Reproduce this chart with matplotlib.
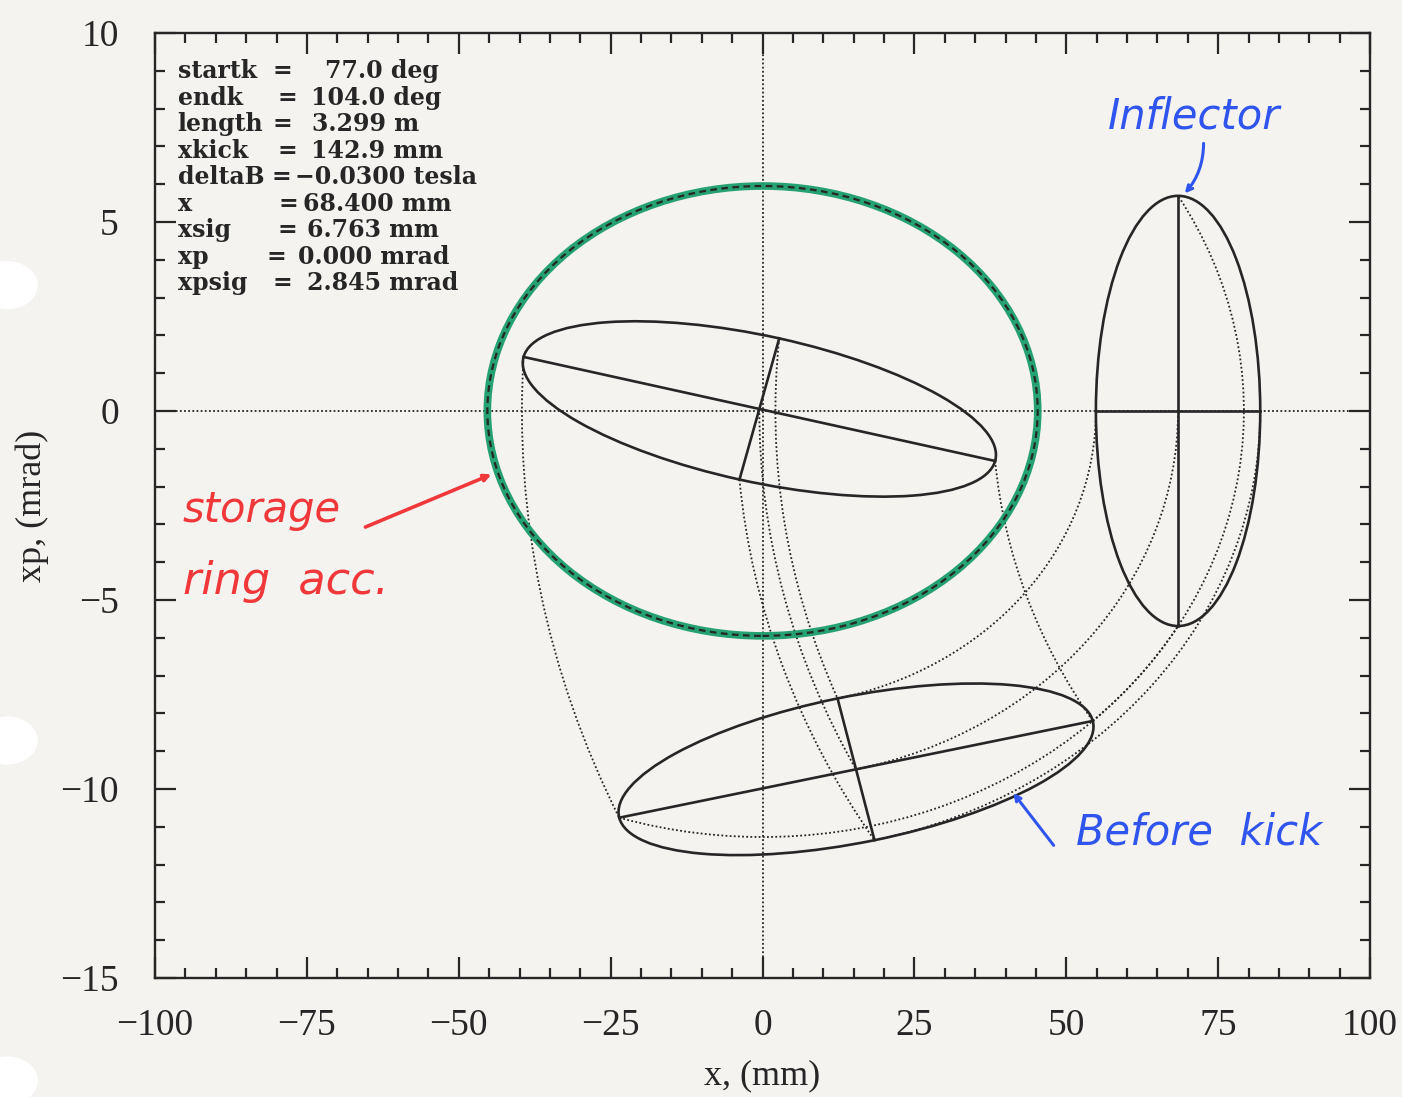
import numpy as np
import matplotlib
matplotlib.use('Agg')
import matplotlib.pyplot as plt
from matplotlib.patches import Ellipse, Arc, Circle
from matplotlib.transforms import Affine2D

# settings printed in the box
info_labels = ['startk', 'endk', 'length', 'xkick', 'deltaB', 'x', 'xsig', 'xp', 'xpsig']
info_values = ['77.0 deg', '104.0 deg', '3.299 m', '142.9 mm', '\u22120.0300 tesla',
               '68.400 mm', '6.763 mm', '0.000 mrad', '2.845 mrad']

# beam at the inflector exit
x0 = 68.4        # mm
xsig = 6.763     # mm
xp0 = 0.0        # mrad
xpsig = 2.845    # mrad
nsig = 2.0       # ellipse drawn at 2 sigma

# kicker
startk = 77.0    # deg betatron phase where the kick starts
endk = 104.0     # deg where it ends
beta = 7.03      # m, ring beta at the inflector
kick_pivot = 147.0   # mm, rotation centre in normalised phase space during the kick

# storage ring acceptance (half axes)
acc_x = 45.3     # mm
acc_xp = 5.95    # mrad

bg = '#f5f3f0'
ink = '#262626'
dot = (0, (1.0, 1.3))


def rot(p, c, deg):
    # clockwise rotation of p about c in normalised phase space (x, beta*xp)
    a = np.deg2rad(deg)
    dx, dy = p[0] - c[0], p[1] - c[1]
    return (c[0] + dx * np.cos(a) + dy * np.sin(a),
            c[1] - dx * np.sin(a) + dy * np.cos(a))


fig = plt.figure(figsize=(14.02, 10.97), dpi=100, facecolor=bg)
ax = fig.add_axes([0.1106, 0.1085, 0.8666, 0.8615], facecolor=bg)
ax.set_xlim(-100, 100)
ax.set_ylim(-15, 10)

# normalised coordinates -> data
norm = Affine2D().scale(1.0, 1.0 / beta) + ax.transData

ax.axhline(0, color=ink, lw=1.3, ls=dot, zorder=1)
ax.axvline(0, color=ink, lw=1.3, ls=dot, zorder=1)

# centre and the four ends of the inflector ellipse
origin = (0.0, 0.0)
pivot = (kick_pivot, 0.0)
bx = nsig * xsig
by = beta * nsig * xpsig
c0 = (x0, beta * xp0)
pts0 = {
    'c': c0,
    'l': (c0[0] - bx, c0[1]),
    'r': (c0[0] + bx, c0[1]),
    't': (c0[0], c0[1] + by),
    'b': (c0[0], c0[1] - by),
}
pts1 = {k: rot(p, origin, startk) for k, p in pts0.items()}
pts2 = {k: rot(p, pivot, endk - startk) for k, p in pts1.items()}

# dotted trajectories: free rotation up to the kicker, then rotation about the pivot
for k in pts0:
    p = pts0[k]
    r = np.hypot(*p)
    a = np.degrees(np.arctan2(p[1], p[0]))
    ax.add_patch(Arc(origin, 2 * r, 2 * r, theta1=a - startk, theta2=a,
                     transform=norm, color=ink, lw=1.3, ls=dot, zorder=2))
    q = pts1[k]
    r2 = np.hypot(q[0] - pivot[0], q[1] - pivot[1])
    a2 = np.degrees(np.arctan2(q[1] - pivot[1], q[0] - pivot[0]))
    ax.add_patch(Arc(pivot, 2 * r2, 2 * r2, theta1=a2 - (endk - startk), theta2=a2,
                     transform=norm, color=ink, lw=1.3, ls=dot, zorder=2))

# beam ellipses with their two conjugate diameters
for pts, ang in [(pts0, 0.0), (pts1, -startk), (pts2, -endk)]:
    ax.add_patch(Ellipse(pts['c'], 2 * bx, 2 * by, angle=ang, transform=norm,
                         fill=False, ec=ink, lw=1.9, zorder=3))
    for a, b in [('l', 'r'), ('t', 'b')]:
        ax.plot([pts[a][0], pts[b][0]], [pts[a][1], pts[b][1]], color=ink, lw=1.9,
                transform=norm, zorder=3)

# acceptance: green marker with the dashed curve on top
ax.add_patch(Ellipse((0, 0), 2 * acc_x, 2 * acc_xp, fill=False, ec='#1a9d6b', lw=5.5,
                     alpha=0.95, zorder=4))
ax.add_patch(Ellipse((0, 0), 2 * acc_x, 2 * acc_xp, fill=False, ec=ink, lw=1.6,
                     ls=(0, (3, 2)), zorder=5))

# axes
for s in ax.spines.values():
    s.set_linewidth(1.7)
    s.set_color(ink)
ax.set_xticks(np.arange(-100, 101, 25))
ax.set_xticks(np.arange(-100, 101, 5), minor=True)
ax.set_yticks(np.arange(-15, 11, 5))
ax.set_yticks(np.arange(-15, 11, 1), minor=True)
ax.tick_params(which='both', direction='in', top=True, right=True, color=ink, width=1.6)
ax.tick_params(which='major', length=15)
ax.tick_params(which='minor', length=7)
ax.tick_params(axis='x', pad=22)
ax.tick_params(axis='y', pad=26)
for t in ax.get_xticklabels() + ax.get_yticklabels():
    t.set_fontfamily('Liberation Serif')
    t.set_fontsize(27)
    t.set_color(ink)
ax.set_xlabel('x, (mm)', family='Liberation Serif', fontsize=26, color=ink, labelpad=12)
ax.set_ylabel('xp, (mrad)', family='Liberation Serif', fontsize=26, color=ink, labelpad=8)

# parameter box: label, '=' and value columns
eq_x = [-80.6, -79.8, -80.6, -79.8, -80.9, -79.6, -79.8, -81.6, -80.6]
val_x = [-72.0, -74.4, -74.2, -74.4, -77.0, -75.6, -75.0, -76.4, -75.0]
for i, (lab, val) in enumerate(zip(info_labels, info_values)):
    y = 8.98 - 0.70 * i
    kw = dict(family='DejaVu Serif', weight='bold', fontsize=17, color=ink,
              va='center', ha='left')
    ax.text(-96.3, y, lab, **kw)
    ax.text(eq_x[i], y, '=', **kw)
    ax.text(val_x[i], y, val, **kw)

# hand-written notes
blue = '#2f55ee'
red = '#f0383a'
hand = dict(family='DejaVu Sans', style='italic')
ax.text(71.0, 7.8, 'Inflector', color=blue, ha='center', va='center', fontsize=30, **hand)
ax.annotate('', xy=(69.2, 5.7), xytext=(72.6, 7.15),
            arrowprops=dict(arrowstyle='->', color=blue, lw=2.2,
                            connectionstyle='arc3,rad=-0.2'))
ax.text(71.8, -11.15, 'Before  kick', color=blue, ha='center', va='center', fontsize=30,
        **hand)
ax.annotate('', xy=(41.0, -10.05), xytext=(48.2, -11.55),
            arrowprops=dict(arrowstyle='->', color=blue, lw=2.2))
ax.text(-82.5, -2.62, 'storage', color=red, ha='center', va='center', fontsize=30, **hand)
ax.text(-78.5, -4.5, 'ring  acc.', color=red, ha='center', va='center', fontsize=32,
        **hand)
ax.annotate('', xy=(-44.2, -1.65), xytext=(-65.8, -3.1),
            arrowprops=dict(arrowstyle='->', color=red, lw=2.6))

# punch holes along the left margin of the sheet
for yy in [0.74, 0.325, 0.015]:
    fig.patches.append(Circle((0.005, yy), 0.022, transform=fig.transFigure,
                              fc='white', ec='none'))

fig.savefig('out.png', dpi=100, facecolor=bg)
